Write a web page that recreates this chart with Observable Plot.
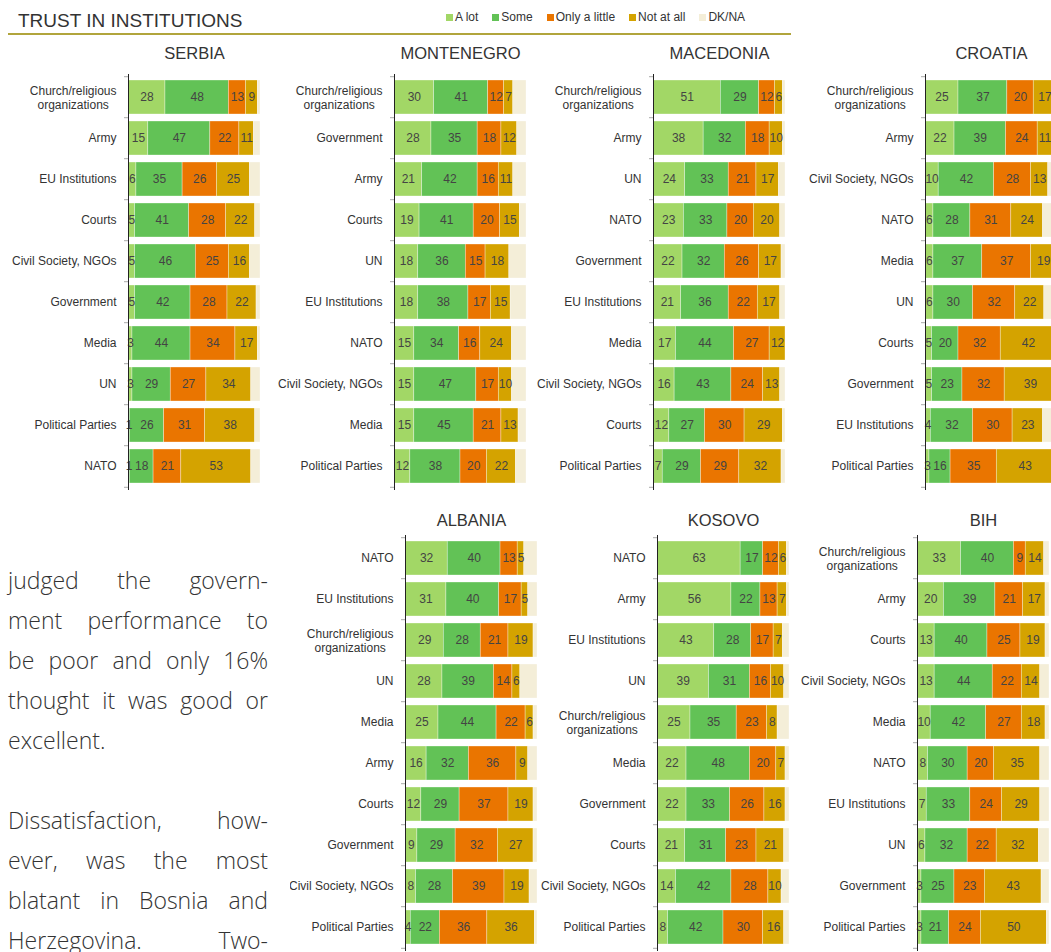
<!DOCTYPE html>
<html>
<head>
<meta charset="utf-8">
<script src="https://cdn.jsdelivr.net/npm/d3@7"></script>
<script src="https://cdn.jsdelivr.net/npm/@observablehq/plot@0.6"></script>
<style>
  html, body { margin: 0; padding: 0; background: #fff; overflow: hidden; width: 1051px; height: 952px; }
  #page { position: relative; width: 1051px; height: 952px; overflow: hidden; font-family: "Liberation Sans", Arial, sans-serif; }
  #page svg { max-width: none !important; }
  .abs { position: absolute; }
  #title { left: 18px; top: 10px; font-size: 19px; color: #333; white-space: nowrap; }
  #rule { left: 8px; top: 33px; width: 783px; height: 2px; background: #b1a53c; }
  #legend { left: 446px; top: 9px; display: flex; font-size: 12px; color: #333; line-height: 16px; }
  .item { display: flex; align-items: center; margin-right: 14px; }
  .sw { width: 7px; height: 7px; margin-right: 2px; }
  .line { left: 8px; width: 260px; font-family: "Open Sans", Lato, sans-serif; font-weight: 300; font-size: 23px; line-height: 36px; color: #333; text-align: justify; text-align-last: justify; }
  .line.last { text-align-last: left; }
</style>
</head>
<body>
<div id="page">
  <div id="title" class="abs">TRUST IN INSTITUTIONS</div>
  <div id="rule" class="abs"></div>
  <div id="legend" class="abs"></div>
</div>
<script>
// Answer categories and their colours
const responses = ["A lot", "Some", "Only a little", "Not at all", "DK/NA"];
const responseColors = ["#a2d766", "#62c256", "#ea7500", "#d4a300", "#f4eed8"];

// Per-country rows: institution, A lot, Some, Only a little, Not at all (%)
const serbia = [
  ["Church/religious organizations", 28, 48, 13, 9],
  ["Army", 15, 47, 22, 11],
  ["EU Institutions", 6, 35, 26, 25],
  ["Courts", 5, 41, 28, 22],
  ["Civil Society, NGOs", 5, 46, 25, 16],
  ["Government", 5, 42, 28, 22],
  ["Media", 3, 44, 34, 17],
  ["UN", 3, 29, 27, 34],
  ["Political Parties", 1, 26, 31, 38],
  ["NATO", 1, 18, 21, 53]
];
const montenegro = [
  ["Church/religious organizations", 30, 41, 12, 7],
  ["Government", 28, 35, 18, 12],
  ["Army", 21, 42, 16, 11],
  ["Courts", 19, 41, 20, 15],
  ["UN", 18, 36, 15, 18],
  ["EU Institutions", 18, 38, 17, 15],
  ["NATO", 15, 34, 16, 24],
  ["Civil Society, NGOs", 15, 47, 17, 10],
  ["Media", 15, 45, 21, 13],
  ["Political Parties", 12, 38, 20, 22]
];
const macedonia = [
  ["Church/religious organizations", 51, 29, 12, 6],
  ["Army", 38, 32, 18, 10],
  ["UN", 24, 33, 21, 17],
  ["NATO", 23, 33, 20, 20],
  ["Government", 22, 32, 26, 17],
  ["EU Institutions", 21, 36, 22, 17],
  ["Media", 17, 44, 27, 12],
  ["Civil Society, NGOs", 16, 43, 24, 13],
  ["Courts", 12, 27, 30, 29],
  ["Political Parties", 7, 29, 29, 32]
];
const croatia = [
  ["Church/religious organizations", 25, 37, 20, 17],
  ["Army", 22, 39, 24, 11],
  ["Civil Society, NGOs", 10, 42, 28, 13],
  ["NATO", 6, 28, 31, 24],
  ["Media", 6, 37, 37, 19],
  ["UN", 6, 30, 32, 22],
  ["Courts", 5, 20, 32, 42],
  ["Government", 5, 23, 32, 39],
  ["EU Institutions", 4, 32, 30, 23],
  ["Political Parties", 3, 16, 35, 43]
];
const albania = [
  ["NATO", 32, 40, 13, 5],
  ["EU Institutions", 31, 40, 17, 5],
  ["Church/religious organizations", 29, 28, 21, 19],
  ["UN", 28, 39, 14, 6],
  ["Media", 25, 44, 22, 6],
  ["Army", 16, 32, 36, 9],
  ["Courts", 12, 29, 37, 19],
  ["Government", 9, 29, 32, 27],
  ["Civil Society, NGOs", 8, 28, 39, 19],
  ["Political Parties", 4, 22, 36, 36]
];
const kosovo = [
  ["NATO", 63, 17, 12, 6],
  ["Army", 56, 22, 13, 7],
  ["EU Institutions", 43, 28, 17, 7],
  ["UN", 39, 31, 16, 10],
  ["Church/religious organizations", 25, 35, 23, 8],
  ["Media", 22, 48, 20, 7],
  ["Government", 22, 33, 26, 16],
  ["Courts", 21, 31, 23, 21],
  ["Civil Society, NGOs", 14, 42, 28, 10],
  ["Political Parties", 8, 42, 30, 16]
];
const bih = [
  ["Church/religious organizations", 33, 40, 9, 14],
  ["Army", 20, 39, 21, 17],
  ["Courts", 13, 40, 25, 19],
  ["Civil Society, NGOs", 13, 44, 22, 14],
  ["Media", 10, 42, 27, 18],
  ["NATO", 8, 30, 20, 35],
  ["EU Institutions", 7, 33, 24, 29],
  ["UN", 6, 32, 22, 32],
  ["Government", 3, 25, 23, 43],
  ["Political Parties", 3, 21, 24, 50]
];

// Body text set beside the lower row of panels
const paragraphLines = [
  ["judged the govern-", false],
  ["ment performance to", false],
  ["be poor and only 16%", false],
  ["thought it was good or", false],
  ["excellent.", true],
  ["", true],
  ["Dissatisfaction, how-", false],
  ["ever, was the most", false],
  ["blatant in Bosnia and", false],
  ["Herzegovina. Two-", false]
];

const page = document.getElementById("page");
const FONT = "'Liberation Sans', Arial, sans-serif";
const LABEL_SIZE = 12;

// Legend swatches
const legend = document.getElementById("legend");
responses.forEach((r, i) => {
  const item = document.createElement("div");
  item.className = "item";
  item.innerHTML = `<span class="sw" style="background:${responseColors[i]}"></span><span>${r}</span>`;
  legend.appendChild(item);
});

// Paragraph, one justified line per row, 40px apart
paragraphLines.forEach(([txt, last], i) => {
  const d = document.createElement("div");
  d.className = "abs line" + (last ? " last" : "");
  d.style.top = (562 + i * 40) + "px";
  d.textContent = txt;
  page.appendChild(d);
});

// Width measurement for the two-line institution label
const ctx = document.createElement("canvas").getContext("2d");
ctx.font = `${LABEL_SIZE}px ${FONT}`;
const measure = (s) => ctx.measureText(s).width;
const labelOf = (d) => d.replace("religious ", "religious\n");

function panel(name, rows, {left, top, marginLeft, marginTop}) {
  const cats = rows.map((r) => r[0]);
  const data = rows.flatMap(([inst, ...vals]) => {
    const all = [...vals, 100 - d3.sum(vals)];
    return all.map((v, i) => ({inst, resp: responses[i], value: v}));
  });
  const bandHeight = 416, barSpan = 132, marginRight = 2, marginBottom = 4;
  const step = bandHeight / cats.length;
  const width = marginLeft + barSpan + marginRight;
  const height = marginTop + bandHeight + marginBottom;
  const single = cats.filter((c) => !labelOf(c).includes("\n"));
  const multi = cats.filter((c) => labelOf(c).includes("\n"));
  const multiWidth = d3.max(multi, (c) => d3.max(labelOf(c).split("\n"), measure)) || 0;

  const chart = Plot.plot({
    width, height, marginLeft, marginRight, marginTop, marginBottom,
    style: {fontFamily: FONT, background: "transparent", overflow: "hidden", maxWidth: "none"},
    x: {domain: [0, 100], axis: null},
    y: {domain: cats, axis: null, paddingInner: 0.16, paddingOuter: 0.08},
    color: {domain: responses, range: responseColors},
    marks: [
      Plot.barX(data, Plot.stackX({y: "inst", x: "value", fill: "resp", stroke: "white", strokeWidth: 0.6, strokeOpacity: 0.55})),
      Plot.text(data, Plot.stackX({filter: (d) => d.resp !== "DK/NA", y: "inst", x: "value", text: (d) => String(d.value), fill: "#444", fontSize: LABEL_SIZE})),
      Plot.ruleX([0], {stroke: "#222", strokeWidth: 1}),
      Plot.ruleY(cats, {y: (d) => d, x1: 0, x2: 0, insetLeft: -4, dy: -step / 2, stroke: "#aaa"}),
      Plot.ruleY(cats.slice(-1), {y: (d) => d, x1: 0, x2: 0, insetLeft: -4, dy: step / 2, stroke: "#aaa"}),
      Plot.text(single, {x: 0, y: (d) => d, text: (d) => d, textAnchor: "end", dx: -12, fontSize: LABEL_SIZE, fill: "#333"}),
      Plot.text(multi, {x: 0, y: (d) => d, text: labelOf, textAnchor: "middle", dx: -(12 + multiWidth / 2), lineHeight: 1.17, fontSize: LABEL_SIZE, fill: "#333"}),
      Plot.text([name], {frameAnchor: "top", lineAnchor: "middle", dy: -(marginTop - 13), fontSize: 16.5, fill: "#333"})
    ]
  });
  const wrap = document.createElement("div");
  wrap.className = "abs";
  wrap.style.left = left + "px";
  wrap.style.top = top + "px";
  wrap.style.width = width + "px";
  wrap.style.height = height + "px";
  wrap.appendChild(chart);
  page.appendChild(wrap);
}

panel("SERBIA", serbia, {left: 0, top: 40, marginLeft: 128, marginTop: 34});
panel("MONTENEGRO", montenegro, {left: 270, top: 40, marginLeft: 124, marginTop: 34});
panel("MACEDONIA", macedonia, {left: 530, top: 40, marginLeft: 123, marginTop: 34});
panel("CROATIA", croatia, {left: 790, top: 40, marginLeft: 135, marginTop: 34});
panel("ALBANIA", albania, {left: 290, top: 507, marginLeft: 115, marginTop: 28});
panel("KOSOVO", kosovo, {left: 540, top: 507, marginLeft: 117, marginTop: 28});
panel("BIH", bih, {left: 790, top: 507, marginLeft: 127, marginTop: 28});
</script>
</body>
</html>
